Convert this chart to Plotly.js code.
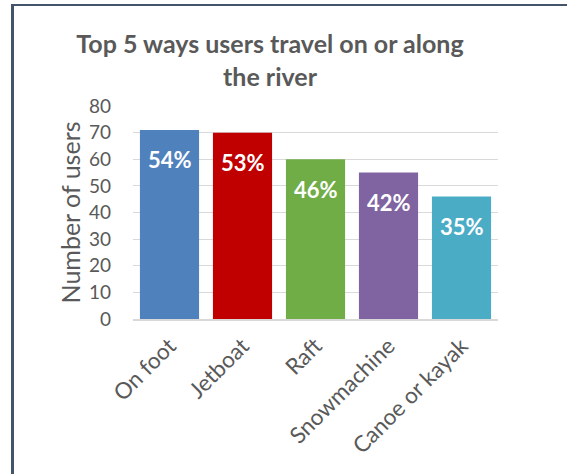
<!DOCTYPE html>
<html>
<head>
<meta charset="utf-8">
<script src="https://cdn.plot.ly/plotly-3.0.1.min.js"></script>
<style>
html,body{margin:0;padding:0;background:#fff;overflow:hidden;}
#chart{position:absolute;left:0;top:0;width:567px;height:474px;}
#frame{position:absolute;left:11px;top:4px;width:700px;height:600px;border-left:3px solid #44546a;border-top:2px solid #44546a;pointer-events:none;}
</style>
</head>
<body>
<div id="frame"></div>
<div id="chart"></div>
<script>
const categories = ["On foot", "Jetboat", "Raft", "Snowmachine", "Canoe or kayak"];
const users = [71, 70, 60, 55, 46];
const percentLabels = ["54%", "53%", "46%", "42%", "35%"];
const barColors = ["#4f81bd", "#c00000", "#70ad47", "#8064a2", "#4bacc6"];
const yTicks = [0, 10, 20, 30, 40, 50, 60, 70, 80];

const trace = {
  type: "bar",
  x: categories,
  y: users,
  marker: {color: barColors},
  hoverinfo: "none"
};

const annotations = categories.map((c, i) => ({
  x: c, y: users[i], xref: "x", yref: "y",
  text: percentLabels[i], showarrow: false,
  yanchor: "middle", yshift: -30,
  font: {family: "Lato", size: 22, color: "#ffffff", weight: 700}
}));

const layout = {
  width: 567, height: 474,
  margin: {l: 133, r: 69, t: 106, b: 155},
  paper_bgcolor: "rgba(0,0,0,0)",
  plot_bgcolor: "rgba(0,0,0,0)",
  bargap: 0.19,
  showlegend: false,
  title: {
    text: "<b>Top 5 ways users travel on or along<br>the river</b>",
    font: {family: "Lato", size: 25, color: "#595959"},
    xref: "container", yref: "container",
    x: 270/567, xanchor: "center",
    y: 1 - 53/474, yanchor: "top"
  },
  xaxis: {
    tickangle: -45,
    tickfont: {family: "Lato", size: 22.5, color: "#595959"},
    showline: true, linecolor: "#d9d9d9", linewidth: 2,
    ticks: "", showgrid: false, ticklabelstandoff: 3
  },
  yaxis: {
    range: [0, 80],
    tickvals: yTicks,
    tickfont: {family: "Lato", size: 19, color: "#595959"},
    showgrid: true, gridcolor: "#d9d9d9", gridwidth: 1,
    zeroline: false, showline: false, ticks: "", ticklabelstandoff: 21,
    title: {text: "Number of users", font: {family: "Lato", size: 25, color: "#595959"}, standoff: 1}
  },
  annotations: annotations
};

Plotly.newPlot("chart", [trace], layout, {displayModeBar: false, staticPlot: true});
</script>
</body>
</html>
